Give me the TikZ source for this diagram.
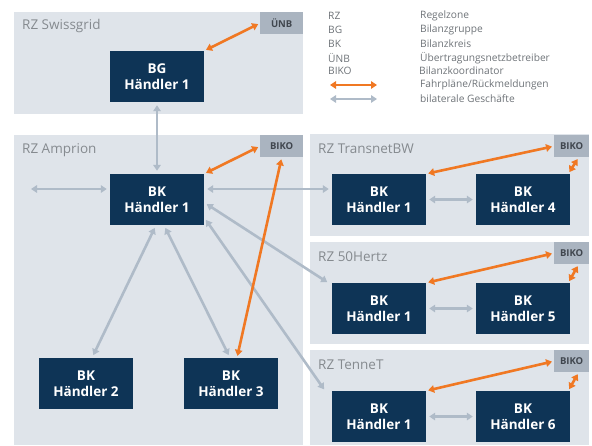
\documentclass[tikz,border=0pt]{standalone}
\usepackage{fontspec}
\setmainfont{Open Sans}
\usetikzlibrary{arrows.meta}

\definecolor{panelgray}{HTML}{DFE4EA}
\definecolor{taggray}{HTML}{AAB4C0}
\definecolor{tagtext}{HTML}{40464E}
\definecolor{navy}{HTML}{0E3456}
\definecolor{plancolor}{HTML}{F07823}
\definecolor{dealcolor}{HTML}{AFBBC8}
\definecolor{titlegray}{HTML}{858A8F}
\definecolor{legendgray}{HTML}{6E7378}

\tikzset{
        panel/.style={fill=panelgray, anchor=north west, inner sep=0pt},
        tag/.style={fill=taggray, text=tagtext, anchor=north east, inner sep=0pt,
                minimum width=43pt, minimum height=22pt,
                font=\bfseries\fontsize{9.5}{11}\selectfont},
        haendler/.style={fill=navy, text=white, align=center, inner sep=0pt,
                minimum width=94pt, minimum height=51pt,
                font=\bfseries\fontsize{13.5}{15.5}\selectfont},
        zone/.style={anchor=base west, text=titlegray, inner sep=0pt,
                font=\fontsize{13.5}{15}\selectfont},
        legend/.style={anchor=west, text=legendgray, inner sep=0pt,
                font=\fontsize{10.2}{12}\selectfont},
        bilateral/.style={draw=dealcolor, line width=2.6pt,
                {Triangle[width=7.5pt,length=6pt]}-{Triangle[width=7.5pt,length=6pt]},
                shorten <=3pt, shorten >=3pt},
        fahrplan/.style={draw=plancolor, line width=2.6pt,
                {Triangle[width=7.5pt,length=6pt]}-{Triangle[width=7.5pt,length=6pt]},
                shorten <=2pt, shorten >=2pt}
}

\begin{document}
\begin{tikzpicture}[x=1pt, y=-1pt]
        \useasboundingbox (0,0) rectangle (592,445);

        \node[panel, minimum width=289pt, minimum height=102pt] (swiss) at (14,12) {};
        \node[panel, minimum width=289pt, minimum height=310pt] (amprion) at (14,135) {};
        \node[panel, minimum width=279pt, minimum height=102pt] (transnet) at (310,134) {};
        \node[panel, minimum width=279pt, minimum height=102pt] (hertz) at (310,242) {};
        \node[panel, minimum width=279pt, minimum height=95pt] (tennet) at (310,350) {};

        \node[zone] at (22,29) {RZ Swissgrid};
        \node[zone] at (22,153) {RZ Amprion};
        \node[zone] at (318,153) {RZ TransnetBW};
        \node[zone] at (318,261) {RZ 50Hertz};
        \node[zone] at (318,369) {RZ TenneT};

        \node[tag] (uenb) at (swiss.north east) {ÜNB};
        \node[tag] (abiko) at (amprion.north east) {BIKO};
        \node[tag, minimum width=35pt] (tbiko) at ([yshift=-1pt]transnet.north east) {BIKO};
        \node[tag, minimum width=35pt] (hbiko) at (hertz.north east) {BIKO};
        \node[tag, minimum width=35pt] (nbiko) at (tennet.north east) {BIKO};

        \node[haendler] (bg) at (157,76.5) {BG\\Händler 1};
        \node[haendler] (ah1) at (157,199.5) {BK\\Händler 1};
        \node[haendler] (ah2) at (86,383.5) {BK\\Händler 2};
        \node[haendler] (ah3) at (231,383.5) {BK\\Händler 3};
        \node[haendler] (th1) at (379,199.5) {BK\\Händler 1};
        \node[haendler] (th4) at (523,199.5) {BK\\Händler 4};
        \node[haendler] (hh1) at (379,308.5) {BK\\Händler 1};
        \node[haendler] (hh5) at (523,308.5) {BK\\Händler 5};
        \node[haendler] (nh1) at (379,416.5) {BK\\Händler 1};
        \node[haendler] (nh6) at (523,416.5) {BK\\Händler 6};

        \coordinate (aleft) at (28,189);

        \draw[bilateral] (bg.south) -- (ah1.north);
        \draw[bilateral] (aleft) -- ([yshift=10.5pt]ah1.west);
        \draw[bilateral] ([yshift=10.5pt]ah1.east) -- ([yshift=10.5pt]th1.west);
        \draw[bilateral] ([yshift=-3pt]ah1.east) -- ([xshift=-2pt,yshift=-1pt]hh1.north west);
        \draw[bilateral] ([yshift=-18pt]ah1.east) -- ([xshift=-6pt,yshift=-1pt]nh1.north west);
        \draw[bilateral] ([xshift=-1pt]ah1.south) -- ([xshift=6pt]ah2.north);
        \draw[bilateral] ([xshift=7pt]ah1.south) -- ([xshift=-1pt]ah3.north);
        \draw[bilateral] (th1.east) -- (th4.west);
        \draw[bilateral] (hh1.east) -- (hh5.west);
        \draw[bilateral] (nh1.east) -- (nh6.west);

        \draw[fahrplan] (bg.north east) -- (uenb.west);
        \draw[fahrplan] (ah1.north east) -- (abiko.west);
        \draw[fahrplan] (abiko.south) -- ([xshift=6pt]ah3.north);
        \draw[fahrplan] (th1.north east) -- (tbiko.west);
        \draw[fahrplan] ([xshift=-2pt]th4.north east) -- ([xshift=7pt]tbiko.south);
        \draw[fahrplan] (hh1.north east) -- (hbiko.west);
        \draw[fahrplan] ([xshift=-2pt]hh5.north east) -- ([xshift=7pt]hbiko.south);
        \draw[fahrplan] (nh1.north east) -- (nbiko.west);
        \draw[fahrplan] ([xshift=-2pt]nh6.north east) -- ([xshift=7pt]nbiko.south);

        \node[legend] (keyrz) at (328,16) {RZ};
        \node[legend] (keybg) at (328,30) {BG};
        \node[legend] (keybk) at (328,44) {BK};
        \node[legend] (keyuenb) at (328,58) {ÜNB};
        \node[legend] (keybiko) at (328,71) {BIKO};
        \node[legend] (namerz) at (420,16) {Regelzone};
        \node[legend] (namebg) at (420,30) {Bilanzgruppe};
        \node[legend] (namebk) at (420,44) {Bilanzkreis};
        \node[legend] (nameuenb) at (420,58) {Übertragungsnetzbetreiber};
        \node[legend] (namebiko) at (419,71) {Bilanzkoordinator};
        \node[legend] (nameplan) at (420,85) {Fahrpläne/Rückmeldungen};
        \node[legend] (namedeal) at (420,99) {bilaterale Geschäfte};

        \coordinate (keyplana) at (330,85);
        \coordinate (keyplanb) at (377,85);
        \coordinate (keydeala) at (330,99);
        \coordinate (keydealb) at (377,99);
        \draw[fahrplan, shorten <=0pt, shorten >=0pt] (keyplana) -- (keyplanb);
        \draw[bilateral, shorten <=0pt, shorten >=0pt] (keydeala) -- (keydealb);
\end{tikzpicture}
\end{document}
